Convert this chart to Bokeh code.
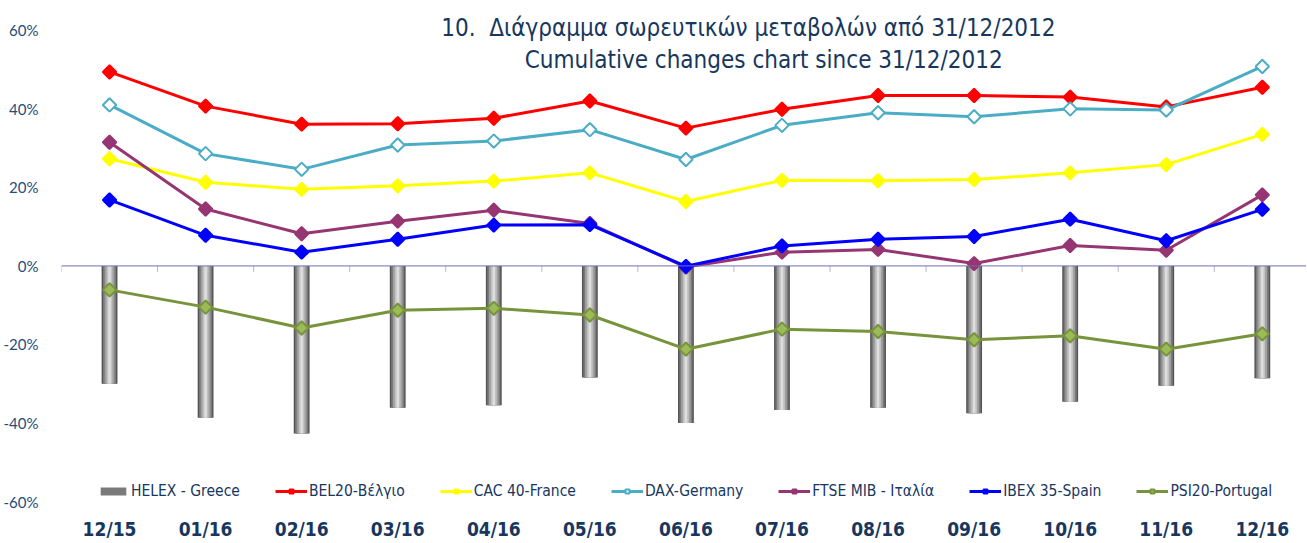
from bokeh.plotting import figure
from bokeh.models import (Range1d, FixedTicker, PrintfTickFormatter, Span, Legend,
                          LegendItem, Label, ColumnDataSource)
from bokeh.embed import file_html
from bokeh.resources import INLINE
import numpy as np

categories = ["12/15", "01/16", "02/16", "03/16", "04/16", "05/16", "06/16",
              "07/16", "08/16", "09/16", "10/16", "11/16", "12/16"]
helex = [-30.0, -38.7, -42.7, -36.1, -35.5, -28.4, -40.0, -36.7, -36.1, -37.5, -34.6, -30.5, -28.6]
bel20 = [49.4, 40.7, 36.1, 36.2, 37.6, 42.0, 35.1, 39.9, 43.4, 43.4, 43.0, 40.5, 45.5]
cac40 = [27.3, 21.3, 19.5, 20.4, 21.6, 23.7, 16.4, 21.8, 21.7, 22.0, 23.7, 25.8, 33.5]
dax = [41.0, 28.6, 24.6, 30.8, 31.8, 34.7, 27.1, 35.8, 39.0, 38.0, 40.0, 39.7, 50.8]
ftse = [31.5, 14.5, 8.2, 11.4, 14.2, 10.8, -0.3, 3.5, 4.2, 0.6, 5.2, 4.0, 18.1]
ibex = [16.8, 7.8, 3.5, 6.8, 10.4, 10.5, -0.1, 5.1, 6.8, 7.5, 11.9, 6.4, 14.4]
psi20 = [-6.1, -10.5, -15.8, -11.3, -10.8, -12.5, -21.2, -16.1, -16.7, -18.8, -17.8, -21.2, -17.3]
y_ticks = [-60, -40, -20, 0, 20, 40, 60]
title_gr = "10.\u00a0 Διάγραμμα σωρευτικών μεταβολών από 31/12/2012"
title_en = "Cumulative changes chart since 31/12/2012"

x = list(range(len(categories)))
NAVY = "#17375E"

p = figure(width=1306, height=542, output_backend="svg", toolbar_location=None,
           x_range=Range1d(-0.5, 12.46), y_range=Range1d(-60, 67.6),
           min_border_left=59, min_border_right=0, min_border_top=0, min_border_bottom=40)
p.outline_line_color = None
p.border_fill_color = "white"
p.grid.visible = False
p.background_fill_color = "white"

# axes
p.xaxis.ticker = FixedTicker(ticks=x)
p.xaxis.major_label_overrides = {i: c for i, c in enumerate(categories)}
p.xaxis.axis_line_color = None
p.xaxis.major_tick_line_color = None
p.xaxis.minor_tick_line_color = None
p.xaxis.major_label_standoff = 10
p.xaxis.major_label_text_font = "DejaVu Sans Condensed"
p.xaxis.major_label_text_font_style = "bold"
p.xaxis.major_label_text_font_size = "19px"
p.xaxis.major_label_text_color = NAVY

p.yaxis.ticker = FixedTicker(ticks=y_ticks)
p.yaxis.formatter = PrintfTickFormatter(format="%d%%")
p.yaxis.axis_line_color = None
p.yaxis.major_tick_line_color = None
p.yaxis.minor_tick_line_color = None
p.yaxis.major_label_standoff = 17
p.yaxis.major_label_text_font = "Lato"
p.yaxis.major_label_text_font_size = "15px"
p.yaxis.major_label_text_color = "#1F4E79"

# zero axis line with category boundary ticks
p.add_layout(Span(location=0, dimension="width", line_color="#7070B0", line_width=1))
bounds = [i - 0.5 for i in range(len(categories) + 1)]
p.segment(x0=bounds, x1=bounds, y0=[0] * len(bounds), y1=[-1.6] * len(bounds),
          line_color="#B8B8D0", line_width=1)

# HELEX bars (cylinder look via layered bars)
src = ColumnDataSource(dict(x=x, top=helex))
bar_layers = [(0.165, "#555555"), (0.135, "#7a7a7a"), (0.10, "#a0a0a0"),
              (0.06, "#c2c2c2"), (0.025, "#dedede")]
bar_renderers = []
for w, c in bar_layers:
    r = p.vbar(x="x", top="top", bottom=0, width=w, source=src,
               fill_color=c, line_color=None)
    bar_renderers.append(r)

series = [
    ("BEL20-Βέλγιο", bel20, "#FF0000", "#FF0000", "#FF0000"),
    ("CAC 40-France", cac40, "#FFFF00", "#FFFF00", "#FFFF00"),
    ("DAX-Germany", dax, "#4BACC6", "white", "#4BACC6"),
    ("FTSE MIB - Ιταλία", ftse, "#953572", "#953572", "#953572"),
    ("IBEX 35-Spain", ibex, "#0000FF", "#0000FF", "#0000FF"),
    ("PSI20-Portugal", psi20, "#77933C", "#9BBB59", "#77933C"),
]

items = [LegendItem(label="HELEX - Greece", renderers=[bar_renderers[1]])]
for name, vals, lc, fc, mc in series:
    ln = p.line(x, vals, line_color=lc, line_width=3)
    sc = p.scatter(x, vals, marker="square", angle=np.pi / 4, size=9.5,
                   fill_color=fc, line_color=mc, line_width=2)
    items.append(LegendItem(label=name, renderers=[ln, sc]))

legend = Legend(items=items, orientation="horizontal", location=(36, 1),
                glyph_width=32, glyph_height=10, label_height=14, label_standoff=2,
                spacing=35, padding=0, margin=0,
                label_text_font="DejaVu Sans Condensed", label_text_font_size="15.5px",
                label_text_color=NAVY, border_line_color=None, background_fill_alpha=0)
p.add_layout(legend)

# title (two lines)
p.add_layout(Label(x=6.65, y=60.5, text=title_gr, text_align="center", text_baseline="middle",
                   text_font="DejaVu Sans Condensed", text_font_size="24px", text_color=NAVY))
p.add_layout(Label(x=6.81, y=52.4, text=title_en, text_align="center", text_baseline="middle",
                   text_font="DejaVu Sans Condensed", text_font_size="24px", text_color=NAVY))

open("out.html", "w").write(file_html(p, INLINE))
